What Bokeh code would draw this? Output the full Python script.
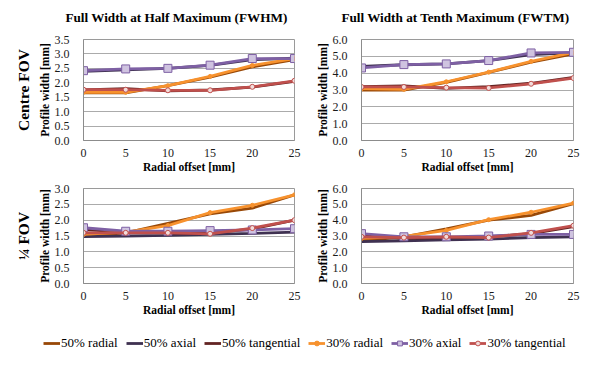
from bokeh.plotting import figure
from bokeh.layouts import column, row
from bokeh.models import Range1d, FixedTicker, Legend, LegendItem, NumeralTickFormatter, ColumnDataSource, Title
from bokeh.embed import file_html
from bokeh.resources import INLINE

FONT = "Liberation Serif"

offsets = [0, 5, 10, 15, 20, 25]
series_names = ["50% radial", "50% axial", "50% tangential", "30% radial", "30% axial", "30% tangential"]
col_titles = ["Full Width at Half Maximum (FWHM)", "Full Width at Tenth Maximum (FWTM)"]
row_titles = ["Centre FOV", "¼ FOV"]

# FWHM, centre FOV
fwhm_c_r50 = [1.65, 1.65, 1.9, 2.2, 2.55, 2.8]
fwhm_c_a50 = [2.4, 2.45, 2.5, 2.6, 2.8, 2.85]
fwhm_c_t50 = [1.75, 1.8, 1.72, 1.75, 1.85, 2.05]
fwhm_c_r30 = [1.67, 1.67, 1.9, 2.22, 2.6, 2.84]
fwhm_c_a30 = [2.42, 2.48, 2.5, 2.61, 2.84, 2.84]
fwhm_c_t30 = [1.76, 1.76, 1.74, 1.74, 1.86, 2.07]

# FWTM, centre FOV
fwtm_c_r50 = [3.0, 3.0, 3.45, 4.05, 4.65, 5.15]
fwtm_c_a50 = [4.4, 4.5, 4.55, 4.75, 5.1, 5.2]
fwtm_c_t50 = [3.2, 3.25, 3.1, 3.2, 3.4, 3.75]
fwtm_c_r30 = [3.08, 3.04, 3.49, 4.06, 4.7, 5.24]
fwtm_c_a30 = [4.31, 4.51, 4.55, 4.75, 5.2, 5.24]
fwtm_c_t30 = [3.18, 3.18, 3.14, 3.12, 3.37, 3.71]

# FWHM, quarter FOV
fwhm_q_r50 = [1.5, 1.6, 1.9, 2.2, 2.38, 2.8]
fwhm_q_a50 = [1.48, 1.5, 1.52, 1.55, 1.58, 1.62]
fwhm_q_t50 = [1.7, 1.62, 1.6, 1.6, 1.72, 2.0]
fwhm_q_r30 = [1.55, 1.62, 1.83, 2.24, 2.47, 2.8]
fwhm_q_a30 = [1.76, 1.65, 1.65, 1.67, 1.69, 1.73]
fwhm_q_t30 = [1.6, 1.6, 1.6, 1.57, 1.75, 2.0]

# FWTM, quarter FOV
fwtm_q_r50 = [2.7, 2.95, 3.45, 4.0, 4.3, 5.05]
fwtm_q_a50 = [2.65, 2.7, 2.75, 2.8, 2.9, 2.95]
fwtm_q_t50 = [3.0, 2.85, 2.9, 2.95, 3.15, 3.6]
fwtm_q_r30 = [2.85, 2.97, 3.35, 4.03, 4.5, 5.08]
fwtm_q_a30 = [3.15, 2.95, 2.95, 3.0, 3.1, 3.1]
fwtm_q_t30 = [2.95, 2.9, 2.95, 2.9, 3.2, 3.65]

line_colors = ["#984807", "#3F3151", "#632423", "#F7922E", "#7E60A4", "#C0504D"]
marker_kind = [None, None, None, "circle", "square", "circle"]
marker_fill = [None, None, None, "#F7922E", "#CFC3E0", "#F2DCDB"]
marker_size = [0, 0, 0, 4, 8, 5]


def draw_series(p, ys):
    rends = []
    for i, y in enumerate(ys):
        src = ColumnDataSource(dict(x=offsets, y=y))
        rs = [p.line("x", "y", source=src, line_color=line_colors[i], line_width=2.8)]
        if marker_kind[i]:
            rs.append(p.scatter("x", "y", source=src, marker=marker_kind[i], size=marker_size[i],
                                fill_color=marker_fill[i], line_color=line_colors[i], line_width=1))
        rends.append(rs)
    return rends


def make(ys, ymax, ystep, left=True, top=True, rowlabel=None, rowoff=0):
    fw = 211 if left else 212
    fh = 101 if top else 95
    p = figure(frame_width=fw, frame_height=fh, output_backend="svg", toolbar_location=None,
               x_range=Range1d(0, 25), y_range=Range1d(0, ymax),
               min_border_left=83 if left else 57, min_border_right=10 if left else 27,
               min_border_top=10, min_border_bottom=38 if top else 46)
    p.xaxis.ticker = FixedTicker(ticks=offsets)
    p.yaxis.ticker = FixedTicker(ticks=[k * ystep for k in range(int(round(ymax / ystep)) + 1)])
    p.yaxis.formatter = NumeralTickFormatter(format="0.0")
    for ax in (p.xaxis[0], p.yaxis[0]):
        ax.major_label_text_font = FONT
        ax.major_label_text_font_size = "12px"
        ax.major_label_text_color = "#1A1A1A"
        ax.axis_label_text_font = FONT
        ax.axis_label_text_font_size = "11.5px"
        ax.axis_label_text_font_style = "bold"
        ax.axis_label_text_color = "#000000"
        ax.axis_line_color = "#8C8C8C"
        ax.major_tick_line_color = None
        ax.minor_tick_line_color = None
    p.xaxis.major_label_standoff = 2
    p.xaxis.axis_label_standoff = 1
    p.yaxis.major_label_standoff = 8
    p.yaxis.axis_label_standoff = 1
    p.xaxis.axis_label = "Radial offset [mm]"
    p.yaxis.axis_label = "Profile width [mm]"
    p.xgrid.visible = False
    p.ygrid.grid_line_color = "#ABABAB"
    p.outline_line_color = "#9A9A9A"
    if rowlabel:
        p.add_layout(Title(text=rowlabel, text_font=FONT, text_font_size="15.5px",
                           text_font_style="bold", align="center", offset=rowoff,
                           standoff=8, text_color="#000000"), "left")
    draw_series(p, ys)
    return p


def title_strip(text, fw, left, right):
    t = figure(frame_width=fw, frame_height=2, output_backend="svg", toolbar_location=None,
               x_axis_type=None, y_axis_type=None, min_border_left=left, min_border_right=right,
               min_border_top=0, min_border_bottom=26)
    t.outline_line_color = None
    t.add_layout(Title(text=text, text_font=FONT, text_font_size="13.2px", text_font_style="bold",
                       align="center", standoff=10, text_color="#000000"), "below")
    return t


t1 = title_strip(col_titles[0], 256, 48, 0)
t2 = title_strip(col_titles[1], 242, 30, 24)

p1 = make([fwhm_c_r50, fwhm_c_a50, fwhm_c_t50, fwhm_c_r30, fwhm_c_a30, fwhm_c_t30], 3.5, 0.5,
          left=True, top=True, rowlabel=row_titles[0], rowoff=-10)
p2 = make([fwtm_c_r50, fwtm_c_a50, fwtm_c_t50, fwtm_c_r30, fwtm_c_a30, fwtm_c_t30], 6.0, 1.0, left=False, top=True)
p3 = make([fwhm_q_r50, fwhm_q_a50, fwhm_q_t50, fwhm_q_r30, fwhm_q_a30, fwhm_q_t30], 3.0, 0.5,
          left=True, top=False, rowlabel=row_titles[1], rowoff=-13)
p4 = make([fwtm_q_r50, fwtm_q_a50, fwtm_q_t50, fwtm_q_r30, fwtm_q_a30, fwtm_q_t30], 6.0, 1.0, left=False, top=False)

# legend strip
lg = figure(width=600, height=39, output_backend="svg", toolbar_location=None,
            x_range=Range1d(0, 25), y_range=Range1d(0, 6), min_border=0,
            x_axis_type=None, y_axis_type=None)
lg.grid.visible = False
lg.outline_line_color = None
lg_rends = draw_series(lg, [fwtm_q_r50, fwtm_q_a50, fwtm_q_t50, fwtm_q_r30, fwtm_q_a30, fwtm_q_t30])
items = []
for i, name in enumerate(series_names):
    for r in lg_rends[i]:
        r.visible = False
    items.append(LegendItem(label=name, renderers=lg_rends[i]))
legend = Legend(items=items, orientation="horizontal", location=(43, 17),
                label_text_font=FONT, label_text_font_size="13px", label_text_color="#000000",
                glyph_width=17, glyph_height=12, label_standoff=1, spacing=8, padding=0,
                border_line_color=None, background_fill_alpha=0, margin=0,
                inactive_fill_alpha=0)
lg.add_layout(legend, "center")

layout = column(row(t1, t2, spacing=0), row(p1, p2, spacing=0), row(p3, p4, spacing=0), lg, spacing=0)
open("out.html", "w").write(file_html(layout, INLINE))
